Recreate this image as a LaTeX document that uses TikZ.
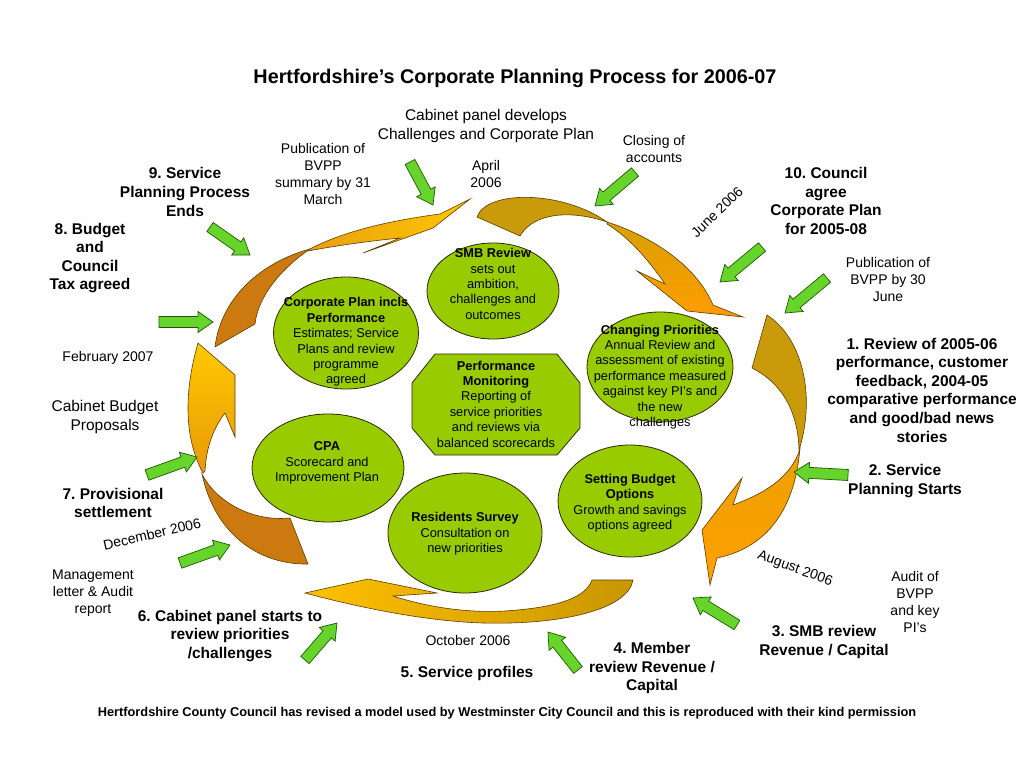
\documentclass[tikz,border=0pt]{standalone}
\usepackage{fontspec}
\setmainfont{Liberation Sans}
\usetikzlibrary{shapes.geometric,calc}
\frenchspacing
\definecolor{ellgreen}{HTML}{99CC00}
\definecolor{ellline}{HTML}{2A2A00}
\definecolor{arrgreen}{HTML}{66D42A}
\definecolor{arrline}{HTML}{1E5A00}
\definecolor{darkorg}{HTML}{CC7A10}
\definecolor{darkgold}{HTML}{C99A0A}
\definecolor{orgline}{HTML}{5C3D00}
\tikzset{
  lbl/.style={align=center, inner sep=0pt, font=\fontsize{14}{17}\selectfont},
  biglbl/.style={align=center, inner sep=0pt, font=\fontsize{15.5}{19}\selectfont},
  blbl/.style={align=center, inner sep=0pt, font=\fontsize{15.5}{18.6}\selectfont\bfseries},
  etext/.style={align=center, inner sep=0pt, font=\fontsize{12.8}{15.4}\selectfont},
  greenell/.style={ellipse, draw=ellline, fill=ellgreen, line width=0.8pt, inner sep=0pt},
  greenarrow/.style={draw=arrline, fill=arrgreen, line width=0.7pt, line join=miter},
  orgpiece/.style={draw=orgline, line width=0.6pt, line join=miter},
}
\newcommand\garrow[2]{%
  \coordinate (#1H) at ($(#2)!15pt!(#1)$);
  \path[greenarrow] ($(#1)!5.5pt!90:(#2)$) -- ($(#1H)!5.5pt!90:(#2)$) -- ($(#1H)!10.5pt!90:(#2)$) -- (#2) -- ($(#1H)!10.5pt!-90:(#2)$) -- ($(#1H)!5.5pt!-90:(#2)$) -- ($(#1)!5.5pt!-90:(#2)$) -- cycle;
}
\begin{document}
\begin{tikzpicture}[x=1pt,y=-1pt]
\fill[white] (0,0) rectangle (1024,768);
\useasboundingbox (0,0) rectangle (1024,768);

% ---------- curved orange arrows ----------
% A (left -> top)
\path[orgpiece, fill=darkorg] (215,347) .. controls (221,297) and (262,262) .. (310,249) .. controls (282,268) and (258,296) .. (255,324) -- cycle;
\path[orgpiece, left color={rgb,255:red,233;green,160;blue,16}, right color={rgb,255:red,255;green,198;blue,0}]
  (308,250) .. controls (345,230) and (395,220) .. (440,214) -- (470,199) -- (433,228) -- (363,253) -- (400,238) .. controls (370,241) and (340,245) .. (308,251) -- cycle;
% B (top -> right)
\path[orgpiece, fill=darkgold] (477,217) .. controls (486,190) and (562,190) .. (607,222) .. controls (572,210) and (534,212) .. (520,236) -- cycle;
\path[orgpiece, top color={rgb,255:red,216;green,160;blue,0}, bottom color={rgb,255:red,255;green,156;blue,0}]
  (607,222) .. controls (645,234) and (695,262) .. (713,305) -- (743,317) -- (687,311) -- (637,271) -- (665,284) .. controls (650,262) and (630,238) .. (607,224) -- cycle;
% C (right -> bottom right)
\path[orgpiece, fill=darkgold] (767,315) .. controls (805,340) and (815,400) .. (799,450) .. controls (798,415) and (785,385) .. (752,368) -- cycle;
\path[orgpiece, top color={rgb,255:red,236;green,160;blue,0}, bottom color={rgb,255:red,255;green,160;blue,0}]
  (800,447) .. controls (797,490) and (780,545) .. (717,558) -- (710,585) -- (702,530) -- (742,478) -- (733,505) .. controls (760,495) and (790,480) .. (800,449) -- cycle;
% D (bottom right -> bottom left)
\path[orgpiece, left color={rgb,255:red,255;green,192;blue,0}, middle color={rgb,255:red,238;green,168;blue,0}, right color={rgb,255:red,200;green,150;blue,0}]
  (633,580) .. controls (628,610) and (560,625) .. (483,623) .. controls (420,621) and (350,605) .. (305,593) -- (368,579) -- (437,593) -- (393,596) .. controls (430,608) and (470,613) .. (505,611) .. controls (550,608) and (585,600) .. (592,580) -- cycle;
% E (bottom left -> left)
\path[orgpiece, fill=darkorg] (308,564) .. controls (260,565) and (215,535) .. (202,474) .. controls (215,500) and (250,522) .. (290,518) -- cycle;
\path[orgpiece, bottom color={rgb,255:red,232;green,154;blue,8}, top color={rgb,255:red,255;green,200;blue,0}]
  (203,473) .. controls (185,440) and (183,395) .. (198,343) -- (235,375) -- (235,437) -- (225,413) .. controls (212,430) and (206,450) .. (205,471) -- cycle;

% ---------- green ellipses ----------
\node[greenell, minimum width=132pt, minimum height=96pt] (smb) at (493,291) {};
\node[etext] (smbt) at (493,284) {\textbf{SMB Review}\\sets out\\ambition,\\challenges and\\outcomes};
\node[greenell, minimum width=145pt, minimum height=112pt] (corp) at (346,333) {};
\node[etext] (corpt) at (346,342) {\textbf{Corporate Plan incls}\\\textbf{Performance}\\Estimates; Service\\Plans and review\\programme\\agreed};
\path[draw=ellline, fill=ellgreen, line width=0.8pt] (435,354) -- (557,354) -- (580,383) -- (580,428) -- (557,455) -- (435,455) -- (412,428) -- (412,383) -- cycle;
\node[etext] (perf) at (496,404) {\textbf{Performance}\\\textbf{Monitoring}\\Reporting of\\service priorities\\and reviews via\\balanced scorecards};
\node[greenell, minimum width=146pt, minimum height=110pt] (chg) at (660,367) {};
\node[etext] (chgt) at (660,377) {\textbf{Changing Priorities}\\Annual Review and\\assessment of existing\\performance measured\\against key PI’s and\\the new\\challenges};
\node[greenell, minimum width=144pt, minimum height=112pt] (budget) at (630,501) {};
\node[etext] (budgett) at (630,503) {\textbf{Setting Budget}\\\textbf{Options}\\Growth and savings\\options agreed};
\node[greenell, minimum width=152pt, minimum height=108pt] (cpa) at (328,468) {};
\node[etext] (cpat) at (327,463) {\textbf{CPA}\\Scorecard and\\Improvement Plan};
\node[greenell, minimum width=154pt, minimum height=120pt] (resid) at (465,533) {};
\node[etext] (residt) at (465,534) {\textbf{Residents Survey}\\Consultation on\\new priorities};

% ---------- labels ----------
\node[inner sep=0pt, font=\fontsize{19.8}{24}\selectfont\bfseries] (title) at (515,78) {Hertfordshire’s Corporate Planning Process for 2006-07};
\node[biglbl] (cabdev) at (486,126) {Cabinet panel develops\\Challenges and Corporate Plan};
\node[lbl] (pub31) at (323,174) {Publication of\\BVPP\\summary by 31\\March};
\node[lbl] (april) at (486,174) {April\\2006};
\node[lbl] (closing) at (654,149) {Closing of\\accounts};
\node[blbl] (l9) at (185,192) {9. Service\\Planning Process\\Ends};
\node[blbl] (l8) at (90,258) {8. Budget\\and\\Council\\Tax agreed};
\node[blbl] (l10) at (826,201) {10. Council\\agree\\Corporate Plan\\for 2005-08};
\node[lbl, rotate=44] (june) at (717,212) {June 2006};
\node[lbl] (pub30) at (888,279) {Publication of\\BVPP by 30\\June};
\node[blbl] (l1) at (922,390) {1. Review of 2005-06\\performance, customer\\feedback, 2004-05\\comparative performance\\and good/bad news\\stories};
\node[blbl] (l2) at (905,481) {2. Service\\Planning Starts};
\node[lbl, rotate=-20] (aug) at (795,569) {August 2006};
\node[lbl] (audit) at (915,602) {Audit of\\BVPP\\and key\\PI’s};
\node[blbl] (l3) at (824,642) {3. SMB review\\Revenue / Capital};
\node[blbl] (l4) at (652,668) {4. Member\\review Revenue /\\Capital};
\node[blbl] (l5) at (467,673) {5. Service profiles};
\node[lbl] (oct) at (468,640) {October 2006};
\node[blbl] (l6) at (230,636) {6. Cabinet panel starts to\\review priorities\\/challenges};
\node[lbl] (mgmt) at (93,593) {Management\\letter \& Audit\\report};
\node[lbl, rotate=13] (dec) at (152,534) {December 2006};
\node[blbl] (l7) at (113,503) {7. Provisional\\settlement};
\node[biglbl] (cabbud) at (105,417) {Cabinet Budget\\Proposals};
\node[lbl] (feb) at (108,358) {February 2007};
\node[inner sep=0pt, font=\fontsize{12.8}{15}\selectfont\bfseries] (footer) at (507,713) {Hertfordshire County Council has revised a model used by Westminster City Council and this is reproduced with their kind permission};

% ---------- green block arrows ----------
\coordinate (g1t) at (410,162);  \coordinate (g1h) at (433,205);
\coordinate (g2t) at (635,172);  \coordinate (g2h) at (595,206);
\coordinate (g3t) at (210,227);  \coordinate (g3h) at (250,255);
\coordinate (g4t) at (762,247);  \coordinate (g4h) at (720,282);
\coordinate (g5t) at (827,278);  \coordinate (g5h) at (785,313);
\coordinate (g6t) at (848,475);  \coordinate (g6h) at (794,472);
\coordinate (g7t) at (737,625);  \coordinate (g7h) at (693,598);
\coordinate (g8t) at (578,670);  \coordinate (g8h) at (548,632);
\coordinate (g9t) at (305,660);  \coordinate (g9h) at (337,623);
\coordinate (g10t) at (180,563); \coordinate (g10h) at (230,545);
\coordinate (g11t) at (147,475); \coordinate (g11h) at (197,457);
\coordinate (g12t) at (159,322); \coordinate (g12h) at (213,322);
\garrow{g1t}{g1h}
\garrow{g2t}{g2h}
\garrow{g3t}{g3h}
\garrow{g4t}{g4h}
\garrow{g5t}{g5h}
\garrow{g6t}{g6h}
\garrow{g7t}{g7h}
\garrow{g8t}{g8h}
\garrow{g9t}{g9h}
\garrow{g10t}{g10h}
\garrow{g11t}{g11h}
\garrow{g12t}{g12h}
\end{tikzpicture}
\end{document}
